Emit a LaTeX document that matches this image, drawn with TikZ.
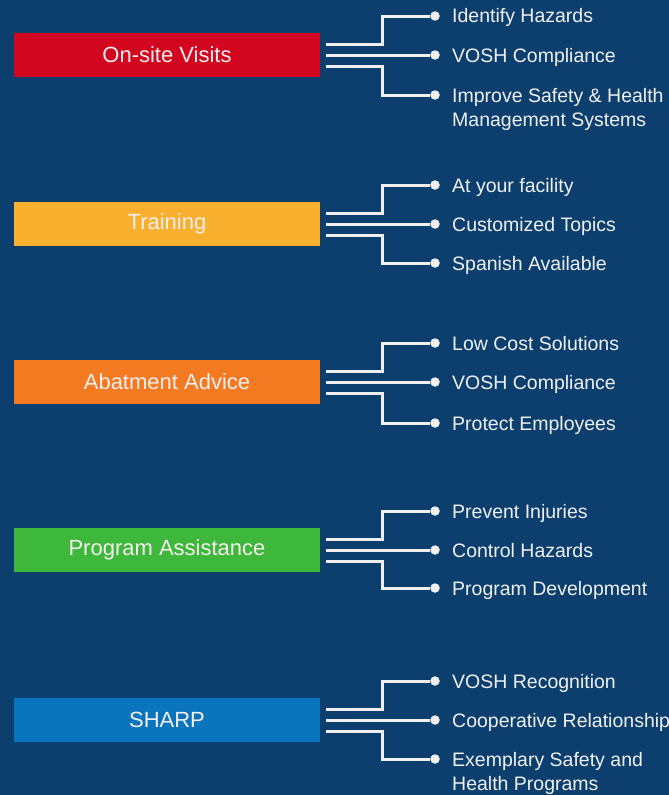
\documentclass[tikz,border=0pt]{standalone}
\usepackage{fontspec}
\setmainfont{Liberation Sans}
\usetikzlibrary{positioning}

\definecolor{bgblue}{HTML}{0C3F6E}
\definecolor{visitred}{HTML}{D2061E}
\definecolor{trainyellow}{HTML}{F8B02E}
\definecolor{abateorange}{HTML}{F47A22}
\definecolor{progreen}{HTML}{3DB83A}
\definecolor{sharpblue}{HTML}{0A74BC}
\definecolor{linewhite}{HTML}{F0F0F0}
\definecolor{boxtext}{HTML}{F6EEEE}

\tikzset{
  areabox/.style={minimum width=306pt, minimum height=44pt, inner sep=0pt, text=boxtext, font=\fontsize{22}{26}\selectfont},
  bullet/.style={circle, fill=linewhite, inner sep=0pt, minimum size=9.5pt},
  itemtext/.style={inner sep=0pt, anchor=base west, text=linewhite, align=left, font=\fontsize{19.5}{24}\selectfont},
  branch/.style={draw=linewhite, line width=3pt}
}

\begin{document}
\begin{tikzpicture}[x=1pt,y=-1pt]
    \fill[bgblue] (0,0) rectangle (669,795);
    \useasboundingbox (0,0) rectangle (669,795);

    % On-site Visits
    \node (visits) [areabox, fill=visitred] at (167,55) {On-site Visits};
    \node (visitsA) [bullet] at (435,16) {};
    \node (visitsB) [bullet] at (435,55) {};
    \node (visitsC) [bullet] at (435,95) {};
    \node (visitsAt) [itemtext] at ([shift={(17pt,-7pt)}]visitsA.center) {Identify Hazards};
    \node (visitsBt) [itemtext] at ([shift={(17pt,-7pt)}]visitsB.center) {VOSH Compliance};
    \node (visitsCt) [itemtext] at ([shift={(17pt,-31pt)}]visitsC.center) {Improve Safety \& Health\\Management Systems};
    \draw[branch] ([shift={(6pt,11pt)}]visits.east) -- ++(56,0) |- (visitsA);
    \draw[branch] ([xshift=6pt]visits.east) -- (visitsB);
    \draw[branch] ([shift={(6pt,-11pt)}]visits.east) -- ++(56,0) |- (visitsC);

    % Training
    \node (train) [areabox, fill=trainyellow] at (167,224) {Training};
    \node (trainA) [bullet] at (435,185) {};
    \node (trainB) [bullet] at (435,224) {};
    \node (trainC) [bullet] at (435,263) {};
    \node (trainAt) [itemtext] at ([shift={(17pt,-7pt)}]trainA.center) {At your facility};
    \node (trainBt) [itemtext] at ([shift={(17pt,-7pt)}]trainB.center) {Customized Topics};
    \node (trainCt) [itemtext] at ([shift={(17pt,-7pt)}]trainC.center) {Spanish Available};
    \draw[branch] ([shift={(6pt,11pt)}]train.east) -- ++(56,0) |- (trainA);
    \draw[branch] ([xshift=6pt]train.east) -- (trainB);
    \draw[branch] ([shift={(6pt,-11pt)}]train.east) -- ++(56,0) |- (trainC);

    % Abatment Advice
    \node (abate) [areabox, fill=abateorange] at (167,382) {Abatment Advice};
    \node (abateA) [bullet] at (435,343) {};
    \node (abateB) [bullet] at (435,382) {};
    \node (abateC) [bullet] at (435,423) {};
    \node (abateAt) [itemtext] at ([shift={(17pt,-7pt)}]abateA.center) {Low Cost Solutions};
    \node (abateBt) [itemtext] at ([shift={(17pt,-7pt)}]abateB.center) {VOSH Compliance};
    \node (abateCt) [itemtext] at ([shift={(17pt,-7pt)}]abateC.center) {Protect Employees};
    \draw[branch] ([shift={(6pt,11pt)}]abate.east) -- ++(56,0) |- (abateA);
    \draw[branch] ([xshift=6pt]abate.east) -- (abateB);
    \draw[branch] ([shift={(6pt,-11pt)}]abate.east) -- ++(56,0) |- (abateC);

    % Program Assistance
    \node (prog) [areabox, fill=progreen] at (167,550) {Program Assistance};
    \node (progA) [bullet] at (435,511) {};
    \node (progB) [bullet] at (435,550) {};
    \node (progC) [bullet] at (435,588) {};
    \node (progAt) [itemtext] at ([shift={(17pt,-7pt)}]progA.center) {Prevent Injuries};
    \node (progBt) [itemtext] at ([shift={(17pt,-7pt)}]progB.center) {Control Hazards};
    \node (progCt) [itemtext] at ([shift={(17pt,-7pt)}]progC.center) {Program Development};
    \draw[branch] ([shift={(6pt,11pt)}]prog.east) -- ++(56,0) |- (progA);
    \draw[branch] ([xshift=6pt]prog.east) -- (progB);
    \draw[branch] ([shift={(6pt,-11pt)}]prog.east) -- ++(56,0) |- (progC);

    % SHARP
    \node (sharp) [areabox, fill=sharpblue] at (167,720) {SHARP};
    \node (sharpA) [bullet] at (435,681) {};
    \node (sharpB) [bullet] at (435,720) {};
    \node (sharpC) [bullet] at (435,759) {};
    \node (sharpAt) [itemtext] at ([shift={(17pt,-7pt)}]sharpA.center) {VOSH Recognition};
    \node (sharpBt) [itemtext] at ([shift={(17pt,-7pt)}]sharpB.center) {Cooperative Relationship};
    \node (sharpCt) [itemtext] at ([shift={(17pt,-31pt)}]sharpC.center) {Exemplary Safety and\\Health Programs};
    \draw[branch] ([shift={(6pt,11pt)}]sharp.east) -- ++(56,0) |- (sharpA);
    \draw[branch] ([xshift=6pt]sharp.east) -- (sharpB);
    \draw[branch] ([shift={(6pt,-11pt)}]sharp.east) -- ++(56,0) |- (sharpC);
\end{tikzpicture}
\end{document}
